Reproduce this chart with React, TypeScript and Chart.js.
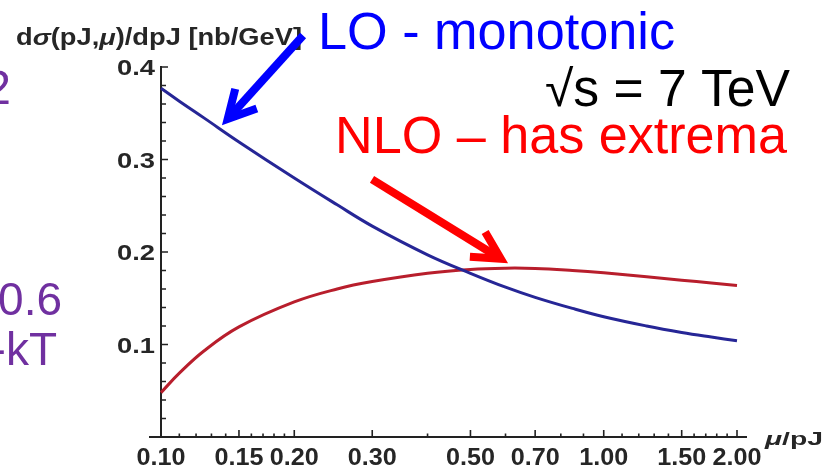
import React, { useEffect, useRef } from 'react';
import { Chart, registerables } from 'chart.js';

Chart.register(...registerables);

// ---- data ----
const muValues = [0.1, 0.11, 0.125, 0.15, 0.2, 0.25, 0.3, 0.4, 0.5, 0.6, 0.7, 0.85, 1.0, 1.25, 1.5, 1.75, 2.0];
const loValues = [0.377, 0.363, 0.345, 0.319, 0.280, 0.251, 0.228, 0.197, 0.177, 0.162, 0.151, 0.139, 0.130, 0.120, 0.113, 0.108, 0.104];
const nloValues = [0.048, 0.069, 0.093, 0.119, 0.146, 0.160, 0.168, 0.177, 0.1812, 0.1825, 0.1822, 0.180, 0.1775, 0.1733, 0.1695, 0.1665, 0.1638];

const xTickValues = [0.1, 0.15, 0.2, 0.3, 0.5, 0.7, 1.0, 1.5, 2.0];
const xTickLabels = ['0.10', '0.15', '0.20', '0.30', '0.50', '0.70', '1.00', '1.50', '2.00'];
const xMinorTicks = [0.11, 0.12, 0.13, 0.14, 0.16, 0.17, 0.18, 0.19, 0.4, 0.6, 0.8, 0.9, 1.1, 1.2, 1.3, 1.4, 1.6, 1.7, 1.8, 1.9];
const yTickValues = [0.1, 0.2, 0.3, 0.4];
const yTickLabels = ['0.1', '0.2', '0.3', '0.4'];
const yMinorTicks = [0.02, 0.04, 0.06, 0.08, 0.12, 0.14, 0.16, 0.18, 0.22, 0.24, 0.26, 0.28, 0.32, 0.34, 0.36, 0.38];

const yAxisTitle = [
  { t: 'd', italic: false },
  { t: 'σ', italic: true },
  { t: '(pJ,', italic: false },
  { t: 'μ', italic: true },
  { t: ')/dpJ [nb/GeV]', italic: false },
];
const xAxisTitle = [
  { t: 'μ', italic: true },
  { t: '/pJ', italic: false },
];

const loLabel = 'LO - monotonic';
const energyLabel = '√s = 7 TeV';
const nloLabel = 'NLO – has extrema';

// arrows in data coordinates: [tailX, tailY, tipX, tipY]
const loArrow = [0.2094, 0.434, 0.1373, 0.337];
const nloArrow = [0.2997, 0.2786, 0.608, 0.1878];

const SANS = '"Liberation Sans", Arial, sans-serif';

function fitSegments(ctx: CanvasRenderingContext2D, segs: { t: string; italic: boolean }[], x: number, y: number, size: number, bold: boolean, color: string, width: number) {
  const fontFor = (it: boolean) => `${it ? 'italic ' : ''}${bold ? 'bold ' : ''}${size}px ${SANS}`;
  let total = 0;
  const widths: number[] = [];
  for (const s of segs) {
    ctx.font = fontFor(s.italic);
    const w = ctx.measureText(s.t).width;
    widths.push(w);
    total += w;
  }
  const sc = width / total;
  ctx.save();
  ctx.translate(x, y);
  ctx.scale(sc, 1);
  ctx.fillStyle = color;
  ctx.textAlign = 'left';
  ctx.textBaseline = 'alphabetic';
  let cx = 0;
  segs.forEach((s, i) => {
    ctx.font = fontFor(s.italic);
    ctx.fillText(s.t, cx, 0);
    cx += widths[i];
  });
  ctx.restore();
}

function fitText(ctx: CanvasRenderingContext2D, text: string, x: number, y: number, font: string, color: string, width: number, align: CanvasTextAlign) {
  ctx.save();
  ctx.font = font;
  const w = ctx.measureText(text).width;
  ctx.translate(x, y);
  ctx.scale(width / w, 1);
  ctx.textAlign = align;
  ctx.textBaseline = 'alphabetic';
  ctx.fillStyle = color;
  ctx.fillText(text, 0, 0);
  ctx.restore();
}

function drawArrow(ctx: CanvasRenderingContext2D, x1: number, y1: number, x2: number, y2: number, color: string, lw: number) {
  const ang = Math.atan2(y2 - y1, x2 - x1);
  const ux = Math.cos(ang), uy = Math.sin(ang);
  const half = (28 * Math.PI) / 180;
  const back = (lw / 2) / Math.sin(half);
  const tx = x2 - ux * back, ty = y2 - uy * back;
  const headLen = 31;
  ctx.save();
  ctx.strokeStyle = color;
  ctx.lineWidth = lw;
  ctx.lineCap = 'butt';
  ctx.lineJoin = 'miter';
  ctx.beginPath();
  ctx.moveTo(x1, y1);
  ctx.lineTo(tx - ux * 2, ty - uy * 2);
  ctx.stroke();
  const a1 = ang + Math.PI - half;
  const a2 = ang + Math.PI + half;
  ctx.beginPath();
  ctx.moveTo(tx + Math.cos(a1) * headLen, ty + Math.sin(a1) * headLen);
  ctx.lineTo(tx, ty);
  ctx.lineTo(tx + Math.cos(a2) * headLen, ty + Math.sin(a2) * headLen);
  ctx.stroke();
  ctx.restore();
}

const mathAxes = {
  id: 'mathAxes',
  beforeDatasetsDraw(chart: any) {
    const { ctx, scales } = chart;
    const xs = scales.x, ys = scales.y;
    const x0 = xs.getPixelForValue(0.1);
    const x1 = xs.getPixelForValue(2.0);
    const y0 = ys.getPixelForValue(0);
    const yTop = ys.getPixelForValue(0.4);
    ctx.save();
    ctx.strokeStyle = '#222';
    ctx.lineWidth = 2;
    ctx.beginPath();
    ctx.moveTo(x0 - 12, y0);
    ctx.lineTo(x1 + 10, y0);
    ctx.moveTo(x0, y0);
    ctx.lineTo(x0, yTop - 1);
    ctx.stroke();
    ctx.lineWidth = 1.6;
    ctx.beginPath();
    for (const v of xTickValues) {
      const px = xs.getPixelForValue(v);
      ctx.moveTo(px, y0);
      ctx.lineTo(px, y0 - 7);
    }
    for (const v of xMinorTicks) {
      const px = xs.getPixelForValue(v);
      ctx.moveTo(px, y0);
      ctx.lineTo(px, y0 - 3.5);
    }
    for (const v of yTickValues) {
      const py = ys.getPixelForValue(v);
      ctx.moveTo(x0, py);
      ctx.lineTo(x0 + 7, py);
    }
    for (const v of yMinorTicks) {
      const py = ys.getPixelForValue(v);
      ctx.moveTo(x0, py);
      ctx.lineTo(x0 + 5, py);
    }
    ctx.stroke();
    ctx.restore();

    // tick labels
    xTickValues.forEach((v, i) => {
      fitText(ctx, xTickLabels[i], xs.getPixelForValue(v), 465, `bold 24px ${SANS}`, '#262626', 49, 'center');
    });
    yTickValues.forEach((v, i) => {
      fitText(ctx, yTickLabels[i], x0 - 6, ys.getPixelForValue(v) + 8, `bold 22px ${SANS}`, '#262626', 38, 'right');
    });

    // axis titles
    fitSegments(ctx, yAxisTitle, 16, 45, 23, true, '#262626', 286);
    fitSegments(ctx, xAxisTitle, 765, 445, 19, true, '#262626', 58);
  },
  afterDraw(chart: any) {
    const { ctx, scales } = chart;
    const xs = scales.x, ys = scales.y;
    // slide annotations
    fitText(ctx, loLabel, 318, 49, `51px ${SANS}`, '#0000ff', 357, 'left');
    fitText(ctx, energyLabel, 545, 106, `51px ${SANS}`, '#000000', 245, 'left');
    fitText(ctx, nloLabel, 335, 153, `51px ${SANS}`, '#ff0000', 452, 'left');
    ctx.save();
    ctx.fillStyle = '#7030a0';
    ctx.font = `48px ${SANS}`;
    ctx.textAlign = 'right';
    ctx.textBaseline = 'alphabetic';
    ctx.fillText('2', 11, 104);
    ctx.font = `46px ${SANS}`;
    ctx.fillText('0.6', 62, 315);
    ctx.fillText('-kT', 57, 365);
    ctx.restore();

    drawArrow(ctx, xs.getPixelForValue(loArrow[0]), ys.getPixelForValue(loArrow[1]), xs.getPixelForValue(loArrow[2]), ys.getPixelForValue(loArrow[3]), '#0000ff', 8);
    drawArrow(ctx, xs.getPixelForValue(nloArrow[0]), ys.getPixelForValue(nloArrow[1]), xs.getPixelForValue(nloArrow[2]), ys.getPixelForValue(nloArrow[3]), '#ff0000', 8);
  },
};

export default function App() {
  const ref = useRef<HTMLCanvasElement | null>(null);
  useEffect(() => {
    if (!ref.current) return;
    const chart = new Chart(ref.current, {
      type: 'line',
      data: {
        datasets: [
          {
            label: 'LO',
            data: muValues.map((m, i) => ({ x: m, y: loValues[i] })),
            borderColor: '#262696',
            borderWidth: 3,
            pointRadius: 0,
            tension: 0.4,
            clip: false as any,
          },
          {
            label: 'NLO',
            data: muValues.map((m, i) => ({ x: m, y: nloValues[i] })),
            borderColor: '#b81e2c',
            borderWidth: 3,
            pointRadius: 0,
            tension: 0.4,
            clip: false as any,
          },
        ],
      },
      options: {
        animation: false,
        responsive: false,
        devicePixelRatio: 1,
        layout: { padding: { left: 161, right: 90, top: 67, bottom: 33 } },
        plugins: { legend: { display: false }, tooltip: { enabled: false } },
        scales: {
          x: { type: 'logarithmic', min: 0.1, max: 2.0, display: false },
          y: { type: 'linear', min: 0, max: 0.4, display: false },
        },
      },
      plugins: [mathAxes],
    });
    return () => chart.destroy();
  }, []);
  return (
    <div style={{ position: 'fixed', left: 0, top: 0, width: 827, height: 470, background: '#fff' }}>
      <canvas ref={ref} width={827} height={470} />
    </div>
  );
}
